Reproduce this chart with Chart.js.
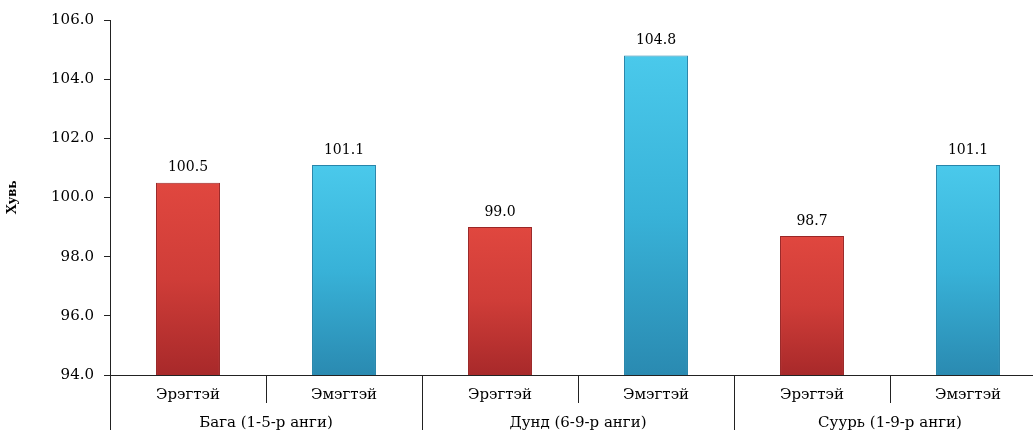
<!DOCTYPE html>
<html>
<head>
<meta charset="utf-8">
<script src="https://cdn.jsdelivr.net/npm/chart.js@4/dist/chart.umd.min.js"></script>
<style>
  html, body { margin: 0; padding: 0; background: #fff; overflow: hidden; }
  #wrap { position: relative; width: 1048px; height: 430px; }
</style>
</head>
<body>
<div id="wrap"><canvas id="c"></canvas></div>
<script>
const categories = ['Эрэгтэй', 'Эмэгтэй', 'Эрэгтэй', 'Эмэгтэй', 'Эрэгтэй', 'Эмэгтэй'];
const groups = ['Бага (1-5-р анги)', 'Дунд (6-9-р анги)', 'Суурь (1-9-р анги)'];
const values = [100.5, 101.1, 99.0, 104.8, 98.7, 101.1];
const yAxisTitle = 'Хувь';
const yMin = 94, yMax = 106, yStep = 2;

const SERIF = '"DejaVu Serif", "Liberation Serif", serif';

function barFill(ctx) {
  const chart = ctx.chart;
  const area = chart.chartArea;
  const ys = chart.scales.y;
  if (!area || !ys) return ctx.dataIndex % 2 === 0 ? '#d04040' : '#3cb4dc';
  const top = ys.getPixelForValue(ctx.raw);
  const g = chart.ctx.createLinearGradient(0, top, 0, area.bottom);
  if (ctx.dataIndex % 2 === 0) {
    g.addColorStop(0, '#e0473f');
    g.addColorStop(0.5, '#cf3d38');
    g.addColorStop(1, '#a8292a');
  } else {
    g.addColorStop(0, '#4ac9eb');
    g.addColorStop(0.5, '#38b2d8');
    g.addColorStop(1, '#2a8ab1');
  }
  return g;
}

const dataLabels = {
  id: 'dataLabels',
  afterDatasetsDraw(chart) {
    const c = chart.ctx;
    const meta = chart.getDatasetMeta(0);
    c.save();
    c.font = '14px ' + SERIF;
    c.fillStyle = '#000';
    c.textAlign = 'center';
    c.textBaseline = 'bottom';
    meta.data.forEach((el, i) => {
      c.fillText(values[i].toFixed(1), el.x, el.y - 8);
    });
    c.restore();
  }
};

const dividers = {
  id: 'dividers',
  afterDraw(chart) {
    const x = chart.scales.x;
    const c = chart.ctx;
    const n = categories.length;
    const step = x.getPixelForValue(1) - x.getPixelForValue(0);
    const top = x.top;
    c.save();
    c.strokeStyle = '#222';
    c.lineWidth = 1;
    for (let b = 0; b <= n; b++) {
      const px = Math.round(x.getPixelForValue(0) - step / 2 + b * step) + 0.5;
      const isGroup = b % 2 === 0;
      c.beginPath();
      c.moveTo(px, top);
      c.lineTo(px, isGroup ? chart.height : top + 28);
      c.stroke();
    }
    c.restore();
  }
};

new Chart(document.getElementById('c'), {
  type: 'bar',
  data: {
    labels: categories,
    datasets: [{
      data: values,
      backgroundColor: barFill,
      borderColor: values.map((v, i) => i % 2 === 0 ? '#9a2626' : '#2785aa'),
      borderWidth: 1,
      barPercentage: 0.41,
      categoryPercentage: 1.0
    }]
  },
  options: {
    responsive: true,
    maintainAspectRatio: false,
    animation: false,
    layout: { padding: { top: 20, right: 2, left: 0, bottom: 0 } },
    plugins: { legend: { display: false }, tooltip: { enabled: false } },
    scales: {
      y: {
        min: yMin, max: yMax,
        afterFit(s) { s.width = 110; },
        ticks: {
          stepSize: yStep,
          padding: 10,
          color: '#000',
          font: { family: SERIF, size: 15 },
          callback: v => Number(v).toFixed(1)
        },
        grid: { drawOnChartArea: false, drawTicks: true, tickLength: 6, color: '#222' },
        border: { display: true, color: '#222', width: 1 },
        title: {
          display: true, text: yAxisTitle, color: '#000',
          font: { family: '"Liberation Serif", serif', size: 15, weight: 'bold' },
          padding: { top: 3, bottom: 0 }
        }
      },
      x: {
        weight: 0,
        offset: true,
        afterFit(s) { s.height = 28; },
        ticks: { color: '#000', padding: 11, font: { family: SERIF, size: 15 }, maxRotation: 0, autoSkip: false },
        grid: { display: false, drawTicks: false },
        border: { display: true, color: '#222', width: 1 }
      },
      x2: {
        type: 'category',
        position: 'bottom',
        weight: 1,
        labels: groups,
        offset: true,
        afterFit(s) { s.height = 27; },
        ticks: { color: '#000', padding: 11, font: { family: SERIF, size: 15 }, maxRotation: 0, autoSkip: false },
        grid: { display: false, drawTicks: false },
        border: { display: false }
      }
    }
  },
  plugins: [dataLabels, dividers]
});
</script>
</body>
</html>
